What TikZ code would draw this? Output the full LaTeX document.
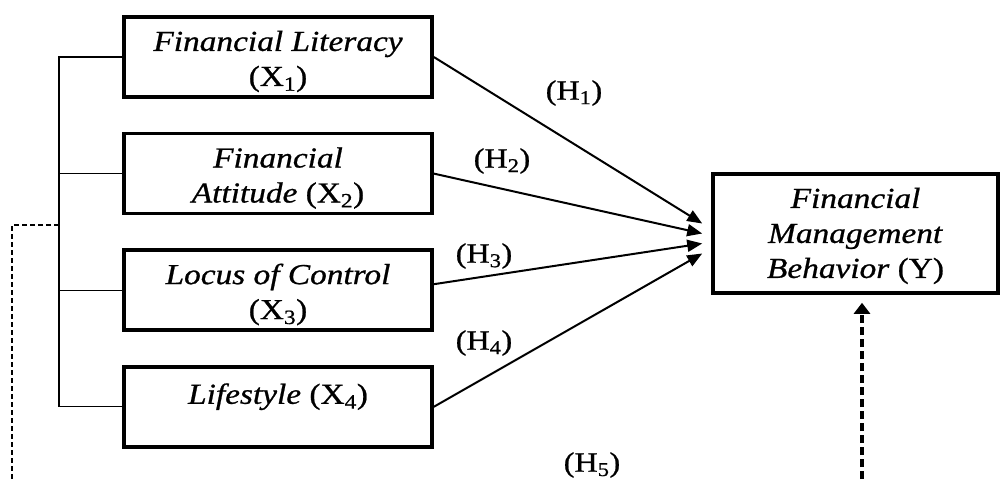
\documentclass[tikz,border=0pt]{standalone}
\usepackage{fontspec}
\setmainfont{Liberation Serif}[FakeStretch=1.15,FakeBold=0.8]
\usetikzlibrary{arrows.meta,positioning}
\tikzset{
  varbox/.style={
    draw,
    line width=3.6pt,
    align=center,
    minimum width=308pt,
    minimum height=80pt,
    inner sep=0pt,
    font=\fontsize{29}{35}\selectfont,
    execute at begin node={\rule{0pt}{64pt}}
  },
  depbox/.style={
    varbox,
    minimum width=285pt,
    minimum height=119pt,
    execute at begin node={\rule{0pt}{95pt}}
  },
  hyplabel/.style={inner sep=0pt, font=\fontsize{28}{32}\selectfont},
  hyparrow/.style={-{Triangle[length=15pt,width=12pt]}, line width=2pt},
  thinlink/.style={line width=1.3pt},
  thindash/.style={line width=1.3pt, dash pattern=on 5pt off 3pt},
  meddash/.style={-{Triangle[length=11pt,width=16pt]}, line width=3.2pt,
    dash pattern=on 8pt off 4pt, shorten >=8pt}
}
\begin{document}
\begin{tikzpicture}[x=1pt,y=-1pt,node distance=33pt]
  \useasboundingbox (0,0) rectangle (1003,479);

  \node[varbox] (lit) at (278,57) {\textit{Financial Literacy}\\(X\textsubscript{1})};
  \node[varbox, below=of lit] (att) {\textit{Financial}\\\textit{Attitude} (X\textsubscript{2})};
  \node[varbox, below=of att] (loc) {\textit{Locus of Control}\\(X\textsubscript{3})};
  \node[varbox, below=of loc] (life) {\textit{Lifestyle} (X\textsubscript{4})\\\mbox{}};

  \node[depbox] (fmb) at (855.5,233.5) {\textit{Financial}\\\textit{Management}\\\textit{Behavior} (Y)};

  \node[hyplabel] (h1) at (574,93) {(H\textsubscript{1})};
  \node[hyplabel] (h2) at (502,161) {(H\textsubscript{2})};
  \node[hyplabel] (h3) at (484,256) {(H\textsubscript{3})};
  \node[hyplabel] (h4) at (484,343) {(H\textsubscript{4})};
  \node[hyplabel] (h5) at (592,465) {(H\textsubscript{5})};

  \coordinate (spine) at (59,0);
  \coordinate (medj) at (59,225);
  \coordinate (medl) at (12,479);
  \coordinate (medr) at (862,479);
  \coordinate (in1) at ([xshift=-9pt,yshift=10pt]fmb.west);
  \coordinate (in2) at ([xshift=-9pt]fmb.west);
  \coordinate (in3) at ([xshift=-9pt,yshift=-10pt]fmb.west);
  \coordinate (in4) at ([xshift=-9pt,yshift=-20pt]fmb.west);

  \draw[thinlink] (lit.west) -- (lit.west -| spine) -- (life.west -| spine) -- (life.west);
  \draw[thinlink] (att.west) -- (att.west -| spine);
  \draw[thinlink] (loc.west) -- (loc.west -| spine);
  \draw[thindash] (medj) -| (medl);

  \draw[hyparrow] (lit.east) -- (in1);
  \draw[hyparrow] (att.east) -- (in2);
  \draw[hyparrow] ([yshift=6pt]loc.east) -- (in3);
  \draw[hyparrow] (life.east) -- (in4);
  \draw[meddash] (medr) -- (fmb.south -| medr);
\end{tikzpicture}
\end{document}
